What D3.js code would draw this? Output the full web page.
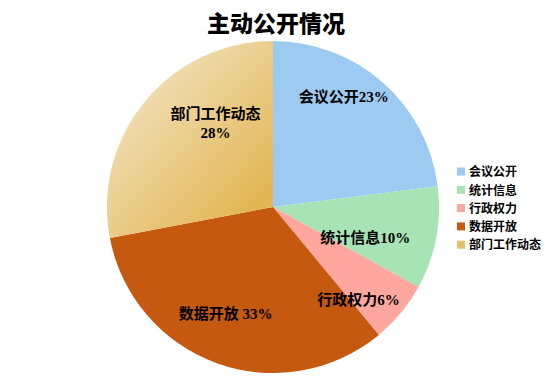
<!DOCTYPE html>
<html>
<head>
<meta charset="utf-8">
<script src="https://cdn.jsdelivr.net/npm/d3@7"></script>
<style>
  body { margin: 0; background: #fff; }
  svg text { font-family: "Liberation Serif", "Noto Sans CJK SC", serif; font-weight: bold; fill: #000; }
</style>
</head>
<body>
<div id="chart"></div>
<script>
// data
const categories = ["会议公开", "统计信息", "行政权力", "数据开放", "部门工作动态"];
const shares = [23, 10, 6, 33, 28];
const colors = ["#9DCAF1", "#A7E3B5", "#FFA69E", "#C5590F", "url(#goldGrad)"];
const legendColors = ["#9DCAF1", "#A7E3B5", "#FFA69E", "#C5590F", "#E6C072"];
// label text pieces: [line1, line2]
const labelLines = [["会议公开23%"], ["统计信息10%"], ["行政权力6%"], ["数据开放 33%"], ["部门工作动态", "28%"]];
// nudges from the centroid, like Excel's hand placed labels
const labelNudge = [[-6, -23], [-22, 9], [-4, 19], [-8, -3], [32, -14]];

const W = 554, H = 388;
const cx = 273, cy = 207, radius = 166;

const svg = d3.select("#chart").append("svg")
  .attr("width", W)
  .attr("height", H);

// gradient for the last slice (coords relative to pie centre, since slices sit in the translated group)
const defs = svg.append("defs");
const grad = defs.append("linearGradient")
  .attr("id", "goldGrad")
  .attr("gradientUnits", "userSpaceOnUse")
  .attr("x1", -140).attr("y1", -130)
  .attr("x2", -10).attr("y2", -10);
grad.append("stop").attr("offset", "0%").attr("stop-color", "#F2E1BB");
grad.append("stop").attr("offset", "100%").attr("stop-color", "#E2B654");

// title
svg.append("text")
  .attr("x", 276)
  .attr("y", 32)
  .attr("text-anchor", "middle")
  .style("font-family", "'Noto Sans CJK SC', sans-serif")
  .style("font-size", "23px")
  .style("font-weight", "900")
  .text("主动公开情况");

const g = svg.append("g").attr("transform", `translate(${cx},${cy})`);

const pie = d3.pie().sort(null).value(d => d);
const arcs = pie(shares);

const arc = d3.arc().innerRadius(0).outerRadius(radius);
const labelArc = d3.arc().innerRadius(radius * 0.7).outerRadius(radius * 0.7);

g.selectAll("path.slice")
  .data(arcs)
  .enter()
  .append("path")
  .attr("class", "slice")
  .attr("d", arc)
  .attr("fill", (d, i) => colors[i]);

// slice labels
arcs.forEach((d, i) => {
  const [lx, ly] = labelArc.centroid(d);
  const t = g.append("text")
    .attr("text-anchor", "middle")
    .style("font-size", "15px")
    .attr("transform", `translate(${lx + labelNudge[i][0]},${ly + labelNudge[i][1]})`);
  const lines = labelLines[i];
  lines.forEach((line, j) => {
    t.append("tspan")
      .attr("x", 0)
      .attr("dy", j === 0 ? (lines.length > 1 ? "0" : "0.35em") : "1.3em")
      .text(line);
  });
});

// legend
const legend = svg.append("g").attr("transform", "translate(457,172)");
categories.forEach((c, i) => {
  const row = legend.append("g").attr("transform", `translate(0,${i * 18.3})`);
  row.append("rect")
    .attr("x", 0).attr("y", -4.5)
    .attr("width", 8).attr("height", 8)
    .attr("fill", legendColors[i]);
  row.append("text")
    .attr("x", 12)
    .attr("y", 0)
    .attr("dy", "0.35em")
    .style("font-size", "12px")
    .text(c);
});
</script>
</body>
</html>
